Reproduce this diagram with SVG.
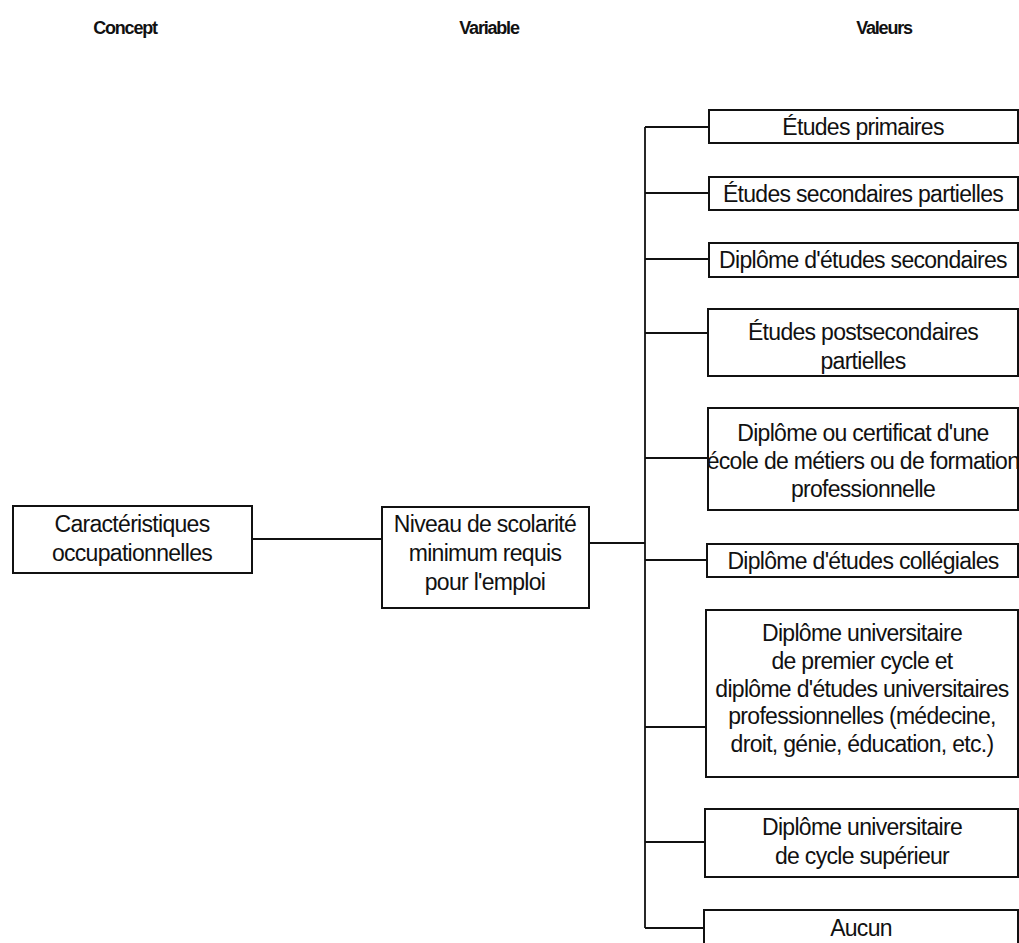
<svg xmlns="http://www.w3.org/2000/svg" width="1019" height="943" viewBox="0 0 1019 943">
<style>
.hdr{font-family:"Liberation Sans",Arial,sans-serif;font-weight:bold;font-size:18px;letter-spacing:-1.2px;fill:#111;text-anchor:middle}
.box{fill:#fff;stroke:#111;stroke-width:2}
.t{font-family:"Liberation Sans",Arial,sans-serif;font-size:23px;letter-spacing:-0.7px;fill:#111;text-anchor:middle}
.c{fill:none;stroke:#111;stroke-width:1.8}
</style>
<rect width="1019" height="943" fill="#fff"/>
<g id="headers">
<text class="hdr" x="125" y="34">Concept</text>
<text class="hdr" x="489" y="34">Variable</text>
<text class="hdr" x="884" y="34">Valeurs</text>
</g>
<g id="connectors">
<line class="c" x1="252" y1="539" x2="382" y2="539"/>
<line class="c" x1="589" y1="543" x2="645" y2="543"/>
<line class="c" x1="645" y1="127" x2="645" y2="928"/>
<line class="c" x1="645" y1="127" x2="709" y2="127"/>
<line class="c" x1="645" y1="193" x2="709" y2="193"/>
<line class="c" x1="645" y1="259" x2="709" y2="259"/>
<line class="c" x1="645" y1="333" x2="708" y2="333"/>
<line class="c" x1="645" y1="458" x2="708" y2="458"/>
<line class="c" x1="645" y1="560" x2="707" y2="560"/>
<line class="c" x1="645" y1="727" x2="706" y2="727"/>
<line class="c" x1="645" y1="842" x2="705" y2="842"/>
<line class="c" x1="645" y1="928" x2="704" y2="928"/>
</g>
<g id="concept">
<rect class="box" x="13" y="506" width="239" height="67"/>
<text class="t" x="132" y="532">Caractéristiques</text>
<text class="t" x="132" y="561">occupationnelles</text>
</g>
<g id="variable">
<rect class="box" x="382" y="507" width="207" height="101"/>
<text class="t" x="485" y="532">Niveau de scolarité</text>
<text class="t" x="485" y="561">minimum requis</text>
<text class="t" x="485" y="590">pour l'emploi</text>
</g>
<g id="v1">
<rect class="box" x="709" y="110" width="309" height="33"/>
<text class="t" x="863" y="135">Études primaires</text>
</g>
<g id="v2">
<rect class="box" x="709" y="177" width="309" height="33"/>
<text class="t" x="863" y="202">Études secondaires partielles</text>
</g>
<g id="v3">
<rect class="box" x="709" y="243" width="309" height="34"/>
<text class="t" x="863" y="268">Diplôme d'études secondaires</text>
</g>
<g id="v4">
<rect class="box" x="708" y="309" width="310" height="67"/>
<text class="t" x="863" y="340">Études postsecondaires</text>
<text class="t" x="863" y="369">partielles</text>
</g>
<g id="v5">
<rect class="box" x="708" y="408" width="310" height="102"/>
<text class="t" x="863" y="441">Diplôme ou certificat d'une</text>
<text class="t" x="863" y="469">école de métiers ou de formation</text>
<text class="t" x="863" y="497">professionnelle</text>
</g>
<g id="v6">
<rect class="box" x="707" y="544" width="311" height="33"/>
<text class="t" x="863" y="569">Diplôme d'études collégiales</text>
</g>
<g id="v7">
<rect class="box" x="706" y="610" width="312" height="167"/>
<text class="t" x="862" y="641">Diplôme universitaire</text>
<text class="t" x="862" y="669">de premier cycle et</text>
<text class="t" x="862" y="697">diplôme d'études universitaires</text>
<text class="t" x="862" y="724">professionnelles (médecine,</text>
<text class="t" x="862" y="752">droit, génie, éducation, etc.)</text>
</g>
<g id="v8">
<rect class="box" x="705" y="809" width="313" height="68"/>
<text class="t" x="862" y="835">Diplôme universitaire</text>
<text class="t" x="862" y="864">de cycle supérieur</text>
</g>
<g id="v9">
<rect class="box" x="704" y="910" width="314" height="40"/>
<text class="t" x="861" y="936">Aucun</text>
</g>
</svg>
